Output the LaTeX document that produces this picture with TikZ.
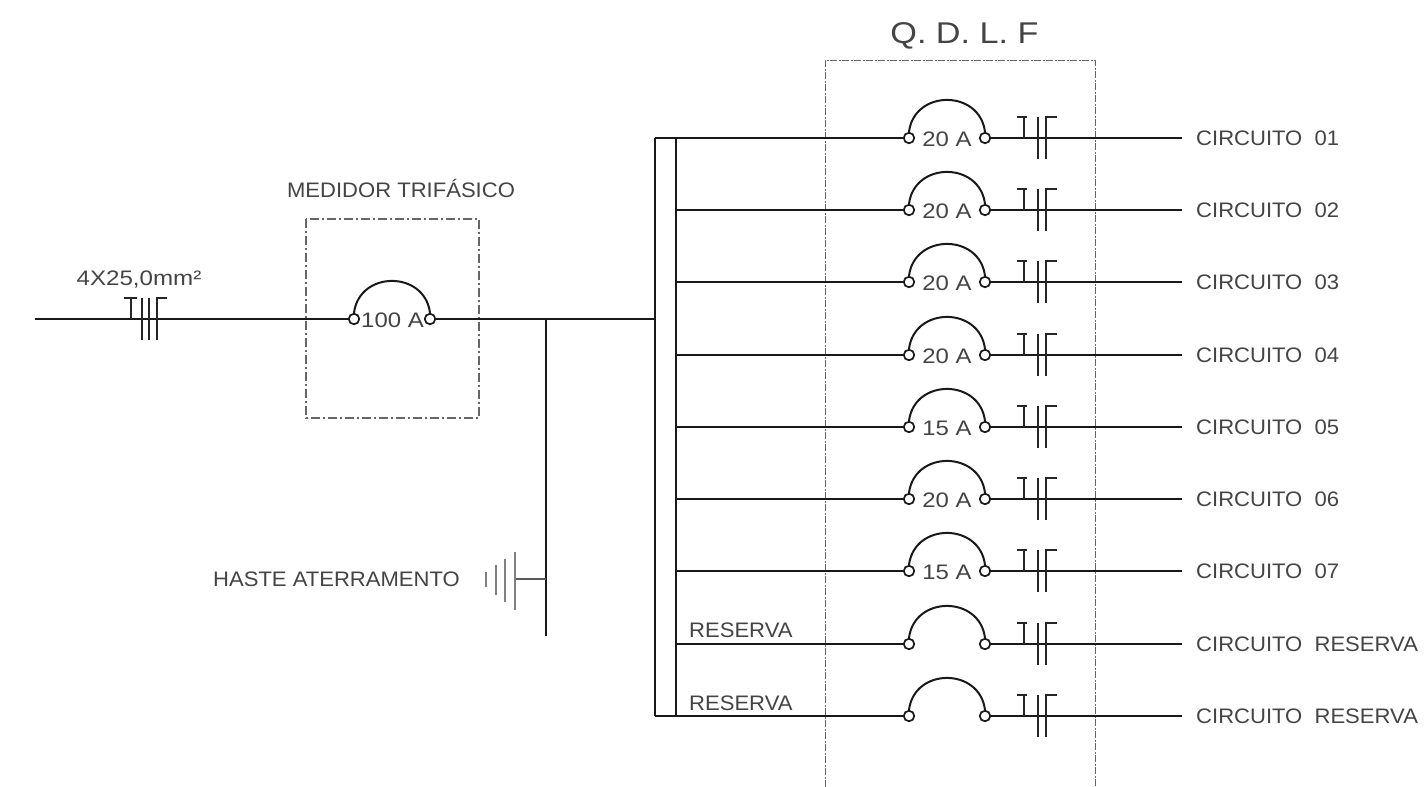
\documentclass[tikz,border=0pt]{standalone}
\usepackage{fontspec}
\setmainfont{Liberation Sans}
\newfontfamily\lblfont[FakeStretch=1.05]{Liberation Sans}
\newfontfamily\ampfont[FakeStretch=1.14]{Liberation Sans}
\newfontfamily\cabofont[FakeStretch=1.15]{Liberation Sans}
\newfontfamily\ttlfont[FakeStretch=1.14]{Liberation Sans}
\definecolor{txt}{HTML}{444444}
\definecolor{dash}{HTML}{666666}
\tikzset{
  wire/.style={line width=2pt,draw=black!90,line cap=butt},
  bar/.style={line width=2pt,draw=black!85},
  term/.style={circle,draw=black!90,fill=white,line width=1.7pt,minimum size=10.5pt,inner sep=0pt},
  label/.style={inner sep=0pt,text=txt,font=\lblfont\fontsize{21}{23}\selectfont},
  amplabel/.style={inner sep=0pt,text=txt,font=\ampfont\fontsize{21}{23}\selectfont},
  panel/.style={line width=1pt,draw=dash,dash pattern=on 7pt off 1.5pt on 2pt off 1.5pt},
  panelb/.style={line width=1.2pt,draw=dash,dash pattern=on 9pt off 3pt on 2pt off 3pt},
  earth/.style={line width=2pt,draw=black!50},
  earthstub/.style={line width=1.6pt,draw=black!65},
}
\begin{document}
\begin{tikzpicture}[x=1pt,y=-1pt]
\useasboundingbox (0,0) rectangle (1425,787);
% panels
\draw[panelb] (306,219) rectangle (479,418);
\draw[panel] (825,787) -- (825,60) -- (1095,60) -- (1095,787);
% titles
\node[inner sep=0pt,text=txt,font=\ttlfont\fontsize{30}{32}\selectfont] (qdlf) at (964.5,36) {Q. D. L. F};
\node[label] (med) at (401,188.5) {MEDIDOR TRIFÁSICO};
\node[inner sep=0pt,text=txt,font=\cabofont\fontsize{21}{23}\selectfont] (cabo) at (139,279.5) {4X25,0mm²};
\node[label] (haste) at (336.5,579.5) {HASTE ATERRAMENTO};
% feeder
\coordinate (in) at (35,319);
\node[term] (ma) at (354,319) {};
\node[term] (mb) at (430,319) {};
\node[amplabel] (mtxt) at (392.5,320) {100 A};
\draw[wire] (in) -- (ma);
\draw[wire] (ma.north) to[out=83,in=97,looseness=1.45] (mb.north);
\coordinate (busL) at (655,319);
\draw[wire] (mb) -- (busL);
% input cable ticks
\coordinate (c0) at (131,319);
\draw[bar] (c0) -- (131,298) (124,298) -- (137,298);
\draw[bar] (142,298) -- (142,340);
\draw[bar] (149,298) -- (149,340);
\draw[bar] (157,340) -- (157,298) -- (167,298);
% earth
\coordinate (gt) at (546,319);
\coordinate (gb) at (546,636);
\draw[wire] (gt) -- (gb);
\coordinate (gj) at (546,579);
\coordinate (gk) at (515,579);
\draw[earthstub] (gj) -- (gk);
\draw[earth] (515,552) -- (515,610);
\draw[earth] (505,559) -- (505,602);
\draw[earth] (496,565) -- (496,595);
\draw[earth] (486,572) -- (486,587);
% bus
\coordinate (bl1) at (655,138);
\coordinate (bl2) at (655,716);
\coordinate (br1) at (676,138);
\coordinate (br2) at (676,716);
\draw[wire] (bl1) -- (bl2) (br1) -- (br2);
\draw[wire] (bl1) -- (br1) (bl2) -- (br2);
% circuits
\foreach \i/\y/\amp/\circ in {1/138/20 A/CIRCUITO\ \ 01,2/210/20 A/CIRCUITO\ \ 02,3/282/20 A/CIRCUITO\ \ 03,4/355/20 A/CIRCUITO\ \ 04,5/427/15 A/CIRCUITO\ \ 05,6/499/20 A/CIRCUITO\ \ 06,7/571/15 A/CIRCUITO\ \ 07,8/644/{}/CIRCUITO\ \ RESERVA,9/716/{}/CIRCUITO\ \ RESERVA}{
  \coordinate (s\i) at (676,\y);
  \coordinate (e\i) at (1182,\y);
  \node[term] (a\i) at (909,\y) {};
  \node[term] (b\i) at (985,\y) {};
  \node[amplabel] (amp\i) at (947,\y+1) {\amp};
  \node[label,anchor=west] (cir\i) at (1196,\y+0.5) {\circ};
  \draw[wire] (s\i) -- (a\i);
  \draw[wire] (b\i) -- (e\i);
  \draw[wire] (a\i.north) to[out=83,in=97,looseness=1.45] (b\i.north);
  \draw[bar] (1024,\y) -- (1024,\y-21) (1017,\y-21) -- (1027,\y-21);
  \draw[bar] (1038,\y-21) -- (1038,\y+21);
  \draw[bar] (1046,\y+21) -- (1046,\y-21) -- (1057,\y-21);
}
\node[label,anchor=west] (res1) at (689,630.5) {RESERVA};
\node[label,anchor=west] (res2) at (689,703.5) {RESERVA};
\end{tikzpicture}
\end{document}
